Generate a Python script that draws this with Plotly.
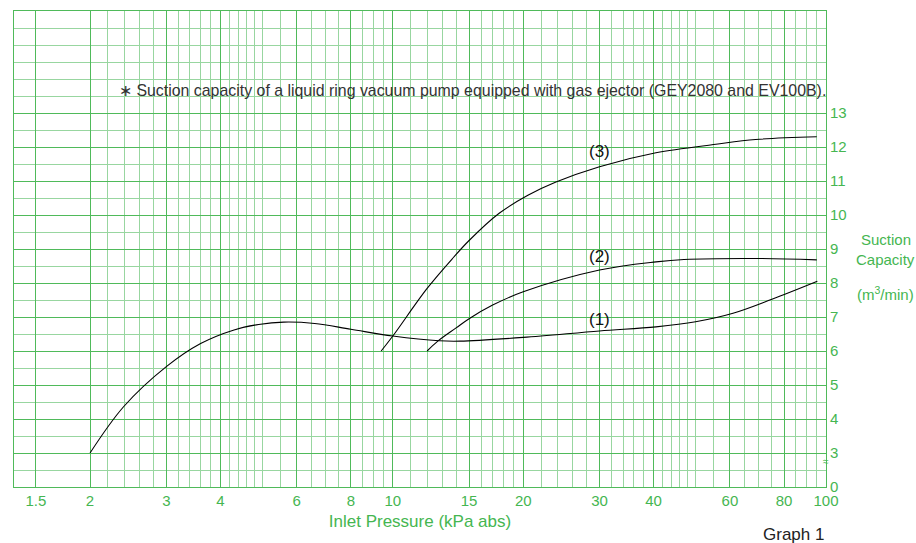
import math
import plotly.graph_objects as go

# ---- data ----
c1_p = [2.0, 2.39, 3.0, 3.6, 4.3, 4.9, 5.6, 6.6, 8.0, 10.0, 12.8, 14.3, 20.0, 30.0, 40.5, 50.0, 61.0, 75.0, 95.5]
c1_q = [3.0, 4.36, 5.54, 6.22, 6.62, 6.78, 6.85, 6.81, 6.64, 6.44, 6.30, 6.29, 6.40, 6.59, 6.71, 6.86, 7.11, 7.52, 8.05]

c2_p = [12.0, 12.7, 14.0, 15.0, 17.0, 20.0, 30.0, 40.5, 47.0, 70.0, 95.2]
c2_q = [6.0, 6.29, 6.68, 6.95, 7.35, 7.74, 8.38, 8.62, 8.69, 8.72, 8.68]

c3_p = [9.4, 10.0, 12.0, 13.8, 15.0, 17.6, 20.5, 23.8, 30.0, 40.5, 55.7, 68.8, 95.2]
c3_q = [6.0, 6.44, 7.84, 8.75, 9.25, 10.05, 10.58, 10.97, 11.42, 11.83, 12.08, 12.22, 12.30]

curve_labels = ["(1)", "(2)", "(3)"]
label_p = [30, 30, 30]
label_q = [6.94, 8.79, 11.88]

x_labels = [1.5, 2, 3, 4, 6, 8, 10, 15, 20, 30, 40, 60, 80, 100]
x_label_text = ["1.5", "2", "3", "4", "6", "8", "10", "15", "20", "30", "40", "60", "80", "100"]
x_minor = ([round(2 + 0.2 * i, 1) for i in range(1, 16)] +
           [5.5, 6.5, 7, 7.5, 8.5, 9, 9.5] +
           [11, 12, 13, 14, 16, 17, 18, 19] +
           [22, 24, 26, 28, 32, 34, 36, 38, 42, 44, 46, 48, 50] +
           [55, 65, 70, 75, 85, 90, 95])
x_minor = [v for v in x_minor if v not in x_labels]

y_major = [2, 3, 4, 5, 6, 7, 8, 9, 10, 11, 12, 13]
y_major_text = ["0", "3", "4", "5", "6", "7", "8", "9", "10", "11", "12", "13"]
y_minor = [2.5 + i for i in range(14)] + [14, 15]

GREEN = "#45b651"
GRID_DARK = "#4fba5a"
GRID_LIGHT = "#98d6a0"
FONT = "Liberation Sans, Arial, sans-serif"

fig = go.Figure()
for px_, qy in [(c1_p, c1_q), (c2_p, c2_q), (c3_p, c3_q)]:
    fig.add_trace(go.Scatter(x=px_, y=qy, mode="lines",
                             line=dict(color="black", width=1.1, shape="spline", smoothing=1.0),
                             showlegend=False, hoverinfo="skip"))

for t, xp, yq in zip(curve_labels, label_p, label_q):
    fig.add_annotation(x=math.log10(xp), y=yq, text=t, showarrow=False,
                       font=dict(family=FONT, size=17, color="#111111"),
                       xanchor="center", yanchor="middle")

fig.add_annotation(x=math.log10(2.31), y=13.67,
                   text="∗ Suction capacity of a liquid ring vacuum pump equipped with gas ejector (GEY2080 and EV100B).",
                   showarrow=False, xanchor="left", yanchor="middle",
                   font=dict(family=FONT, size=15.9, color="#333333"))

fig.add_annotation(xref="paper", yref="paper", x=1.0, y=-0.1008, text="Graph 1",
                   showarrow=False, xanchor="right", yanchor="middle",
                   font=dict(family=FONT, size=17, color="#222222"))

for txt, yy in [("Suction", 0.5207), ("Capacity", 0.4787), ("(m<sup>3</sup>/min)", 0.4073)]:
    fig.add_annotation(xref="paper", yref="paper", x=1.0735, y=yy, text=txt,
                       showarrow=False, xanchor="center", yanchor="middle",
                       font=dict(family=FONT, size=15, color=GREEN))

fig.add_annotation(xref="paper", yref="y", x=0.9995, y=2.76, text="≈", showarrow=False,
                   xanchor="center", yanchor="middle",
                   font=dict(family=FONT, size=10, color=GREEN))

fig.update_layout(
    width=916, height=543,
    margin=dict(l=14, r=90, t=11, b=56, autoexpand=False),
    paper_bgcolor="white", plot_bgcolor="white",
    font=dict(family=FONT, size=15, color=GREEN),
    xaxis=dict(type="log", range=[math.log10(1.335), 2], automargin=False,
               tickmode="array", tickvals=x_labels, ticktext=x_label_text,
               showgrid=True, gridcolor=GRID_DARK, gridwidth=1,
               minor=dict(tickmode="array", tickvals=x_minor, showgrid=True,
                          gridcolor=GRID_LIGHT, gridwidth=1, ticks=""),
               showline=True, linecolor=GRID_DARK, linewidth=1, mirror=True,
               ticks="", tickfont=dict(family=FONT, size=15, color=GREEN),
               title=dict(text="Inlet Pressure (kPa abs)", standoff=7,
                          font=dict(family=FONT, size=17, color=GREEN)),
               zeroline=False, fixedrange=True),
    yaxis=dict(range=[2, 16], side="right", automargin=False,
               tickmode="array", tickvals=y_major, ticktext=y_major_text,
               showgrid=True, gridcolor=GRID_DARK, gridwidth=1,
               minor=dict(tickmode="array", tickvals=y_minor, showgrid=True,
                          gridcolor=GRID_LIGHT, gridwidth=1, ticks=""),
               showline=True, linecolor=GRID_DARK, linewidth=1, mirror=True,
               ticks="", tickfont=dict(family=FONT, size=15, color=GREEN),
               zeroline=False, fixedrange=True),
)

fig.write_html("out.html", config={"displayModeBar": False},
               post_script="document.body.style.margin='0';document.body.style.overflow='hidden';")
